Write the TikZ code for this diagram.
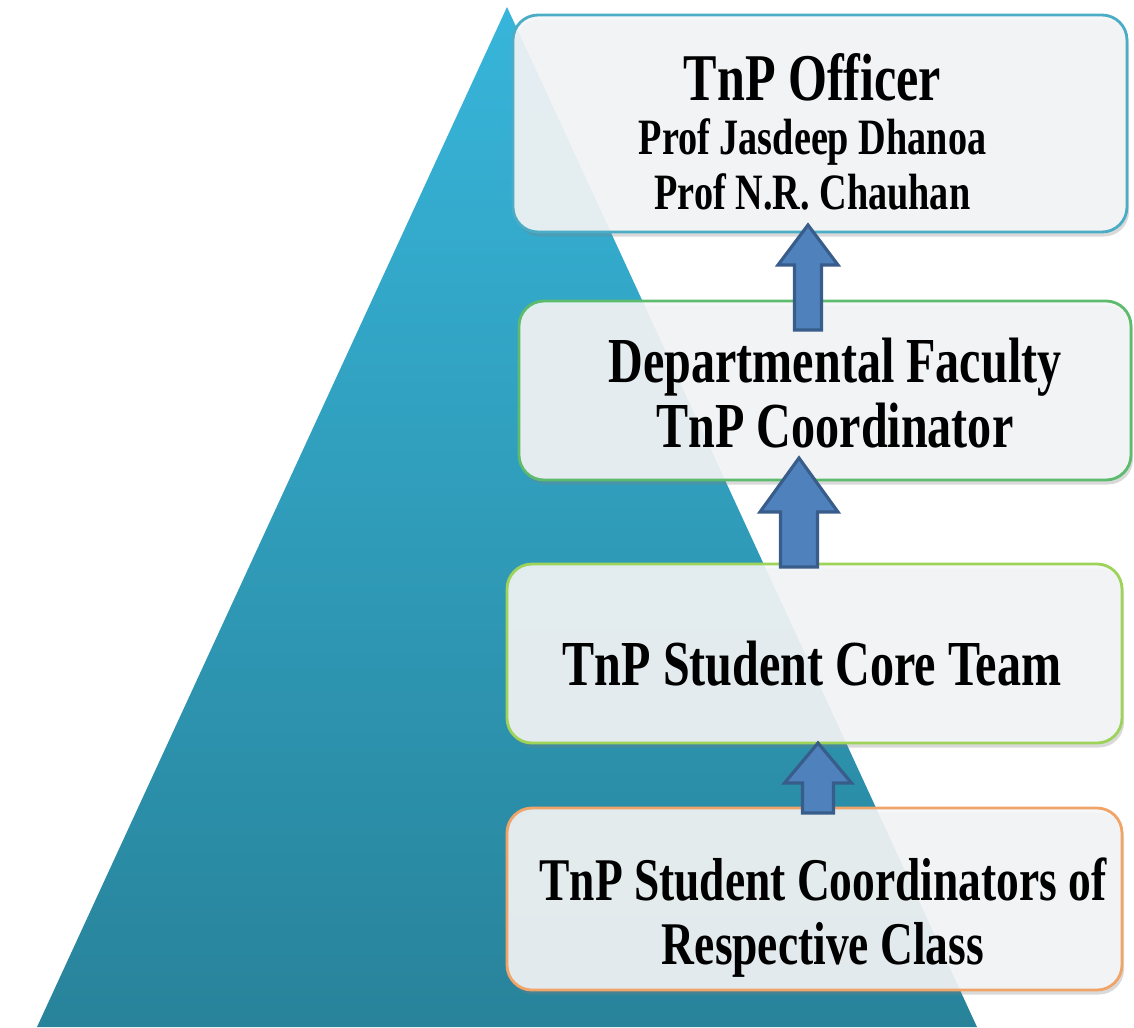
\documentclass[tikz,border=0pt]{standalone}
\usepackage{fontspec}
\setmainfont{Liberation Serif}
\newfontfamily\boxfont{Liberation Serif}[FakeStretch=0.75]
\usetikzlibrary{calc,shadows}

\definecolor{pyrtop}{HTML}{37B5DA}
\definecolor{pyrbot}{HTML}{28839A}
\definecolor{officerline}{HTML}{4BACC6}
\definecolor{facultyline}{HTML}{5DBB6E}
\definecolor{coreline}{HTML}{9ED35A}
\definecolor{classline}{HTML}{F0A468}
\definecolor{arrowfill}{HTML}{4F81BD}
\definecolor{arrowline}{HTML}{385D8A}
\definecolor{boxfill}{HTML}{F5F6F7}

% block arrow pointing up: foot, tip, shaft half width, head half width, head length
\newcommand{\uparrowblock}[5]{%
  \draw[fatarrow] ($(#1)+(-#3,0)$) -- ($(#2)+(-#3,-#5)$) -- ($(#2)+(-#4,-#5)$) -- (#2)
    -- ($(#2)+(#4,-#5)$) -- ($(#2)+(#3,-#5)$) -- ($(#1)+(#3,0)$) -- cycle;}

\begin{document}
\begin{tikzpicture}[
  level/.style={draw, line width=1.6pt, fill=boxfill, fill opacity=0.9,
    rounded corners=0.5cm, minimum width=12.30cm,
    drop shadow={shadow xshift=0.04cm, shadow yshift=-0.09cm, opacity=0.3}},
  leveltext/.style={align=center, font=\boxfont\bfseries\fontsize{36.5}{37.5}\selectfont},
  fatarrow/.style={fill=arrowfill, draw=arrowline, line width=1.8pt, line join=miter}]
\useasboundingbox (0,0) rectangle (22.68,-20.54);

% pyramid
\path[top color=pyrtop, bottom color=pyrbot] (10.14,-0.14) -- (19.54,-20.54) -- (0.74,-20.54) -- cycle;

% levels
\node[level, draw=officerline, minimum height=4.34cm, minimum width=12.28cm] (officer) at (16.40,-2.47) {};
\node[level, draw=facultyline, minimum height=3.58cm, minimum width=12.24cm] (faculty) at (16.50,-7.81) {};
\node[level, draw=coreline, minimum height=3.58cm] (core) at (16.29,-13.07) {};
\node[level, draw=classline, minimum height=3.64cm] (class) at (16.29,-17.98) {};

\node[leveltext, font=\boxfont\bfseries\fontsize{29}{31}\selectfont] (officer text)
  at ([xshift=-0.15cm, yshift=-0.16cm]officer.center)
  {{\fontsize{38}{40}\selectfont TnP Officer}\\Prof Jasdeep Dhanoa\\Prof N.R. Chauhan};
\node[leveltext] (faculty text) at ([xshift=0.2cm, yshift=-0.05cm]faculty.center)
  {Departmental Faculty\\TnP Coordinator};
\node[leveltext] (core text) at ([xshift=-0.05cm, yshift=-0.2cm]core.center)
  {TnP Student Core Team};
\node[leveltext, font=\boxfont\bfseries\fontsize{34.5}{36.5}\selectfont] (class text)
  at ([xshift=0.17cm, yshift=-0.38cm]class.center)
  {TnP Student Coordinators of\\Respective Class};

% arrows between levels
\coordinate (tip1)  at (16.16,-4.50);
\coordinate (foot1) at (16.16,-6.60);
\coordinate (tip2)  at (15.98,-9.16);
\coordinate (foot2) at (15.98,-11.34);
\coordinate (tip3)  at (16.36,-14.86);
\coordinate (foot3) at (16.36,-16.26);
\uparrowblock{foot1}{tip1}{0.27}{0.60}{0.80}
\uparrowblock{foot2}{tip2}{0.37}{0.78}{1.08}
\uparrowblock{foot3}{tip3}{0.31}{0.67}{0.80}
\end{tikzpicture}
\end{document}
